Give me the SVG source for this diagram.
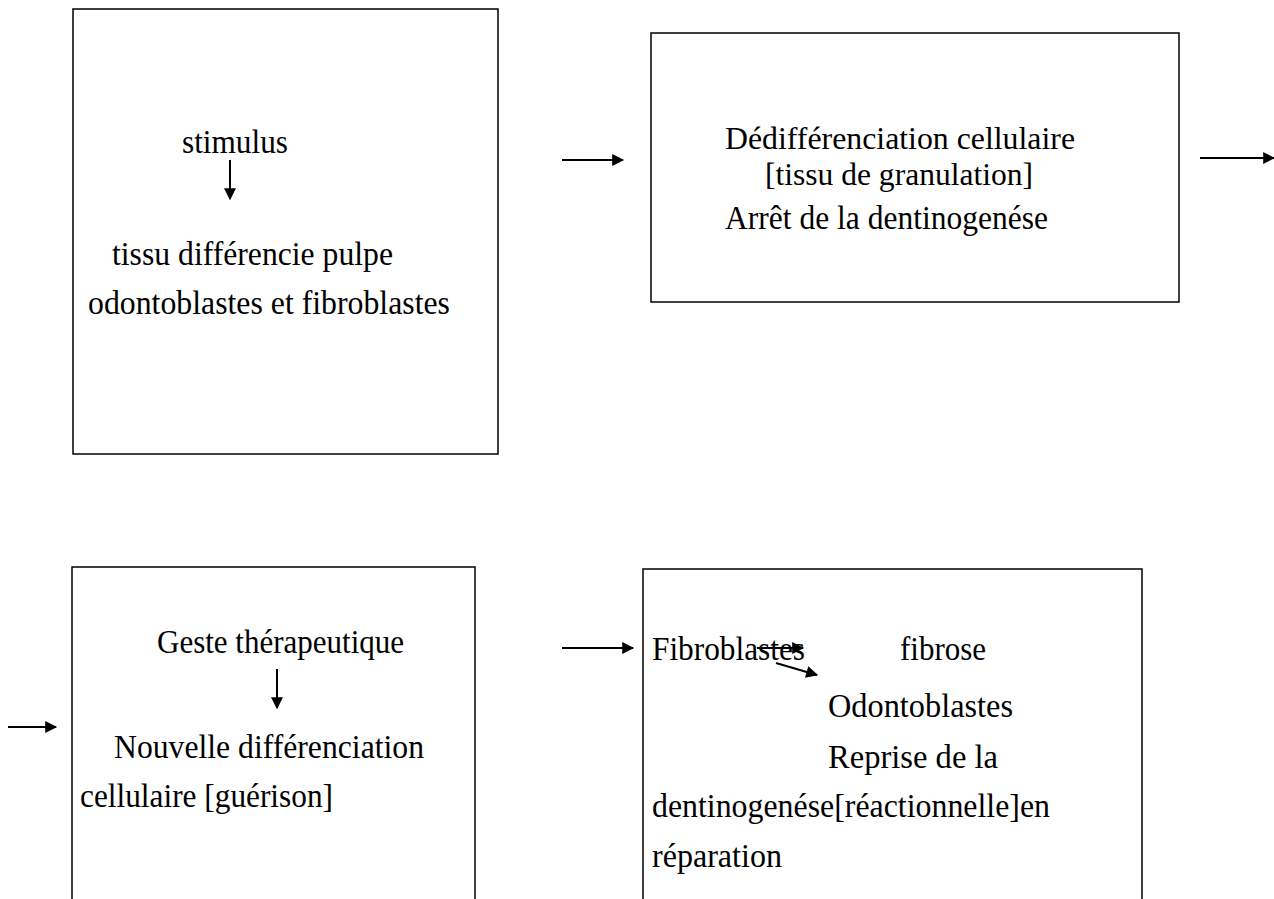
<svg xmlns="http://www.w3.org/2000/svg" width="1274" height="899" viewBox="0 0 1274 899">
<style>
.box{fill:none;stroke:#000;stroke-width:1.5}
.t{font-family:"Liberation Serif","Times New Roman",serif;font-size:34px;fill:#000}
.s{font-size:32px}
.a{stroke:#000;stroke-width:2;fill:none;marker-end:url(#ah)}
</style>
<defs>
<marker id="ah" viewBox="0 0 10 10" refX="9" refY="5" markerWidth="6.5" markerHeight="6" orient="auto" markerUnits="strokeWidth">
<path d="M0,0 L10,5 L0,10 z" fill="#000"/>
</marker>
</defs>
<rect width="1274" height="899" fill="#fff"/>
<g id="node1">
<rect class="box" x="73" y="9" width="425" height="445"/>
<text class="t" x="182" y="153" textLength="106" lengthAdjust="spacingAndGlyphs">stimulus</text>
<text class="t" x="112" y="265" textLength="281" lengthAdjust="spacingAndGlyphs">tissu différencie pulpe</text>
<text class="t" x="88" y="314" textLength="362" lengthAdjust="spacingAndGlyphs">odontoblastes et fibroblastes</text>
</g>
<g id="node2">
<rect class="box" x="651" y="33" width="528" height="269"/>
<text class="t s" x="725" y="149" textLength="350" lengthAdjust="spacingAndGlyphs">Dédifférenciation cellulaire</text>
<text class="t s" x="765" y="185" textLength="268" lengthAdjust="spacingAndGlyphs">[tissu de granulation]</text>
<text class="t" x="725" y="229" textLength="323" lengthAdjust="spacingAndGlyphs">Arrêt de la dentinogenése</text>
</g>
<g id="node3">
<rect class="box" x="72" y="567" width="403" height="340"/>
<text class="t" x="157" y="653" textLength="247" lengthAdjust="spacingAndGlyphs">Geste thérapeutique</text>
<text class="t" x="114" y="758" textLength="310" lengthAdjust="spacingAndGlyphs">Nouvelle différenciation</text>
<text class="t" x="80" y="807" textLength="253" lengthAdjust="spacingAndGlyphs">cellulaire [guérison]</text>
</g>
<g id="node4">
<rect class="box" x="643" y="569" width="499" height="340"/>
<text class="t" x="652" y="660" textLength="153" lengthAdjust="spacingAndGlyphs">Fibroblastes</text>
<text class="t" x="900" y="660" textLength="86" lengthAdjust="spacingAndGlyphs">fibrose</text>
<text class="t" x="828" y="717" textLength="185" lengthAdjust="spacingAndGlyphs">Odontoblastes</text>
<text class="t" x="828" y="768" textLength="170" lengthAdjust="spacingAndGlyphs">Reprise de la</text>
<text class="t" x="652" y="817" textLength="398" lengthAdjust="spacingAndGlyphs">dentinogenése[réactionnelle]en</text>
<text class="t" x="652" y="867" textLength="130" lengthAdjust="spacingAndGlyphs">réparation</text>
</g>
<g id="connectors">
<line class="a" x1="230" y1="160" x2="230" y2="199"/>
<line class="a" x1="562" y1="160" x2="623" y2="160"/>
<line class="a" x1="1200" y1="158" x2="1274" y2="158"/>
<line class="a" x1="8" y1="727" x2="56" y2="727"/>
<line class="a" x1="277" y1="669" x2="277" y2="708"/>
<line class="a" x1="562" y1="648" x2="633" y2="648"/>
<line class="a" x1="757" y1="648" x2="803" y2="648"/>
<line class="a" x1="776" y1="663" x2="817" y2="675"/>
</g>
</svg>
